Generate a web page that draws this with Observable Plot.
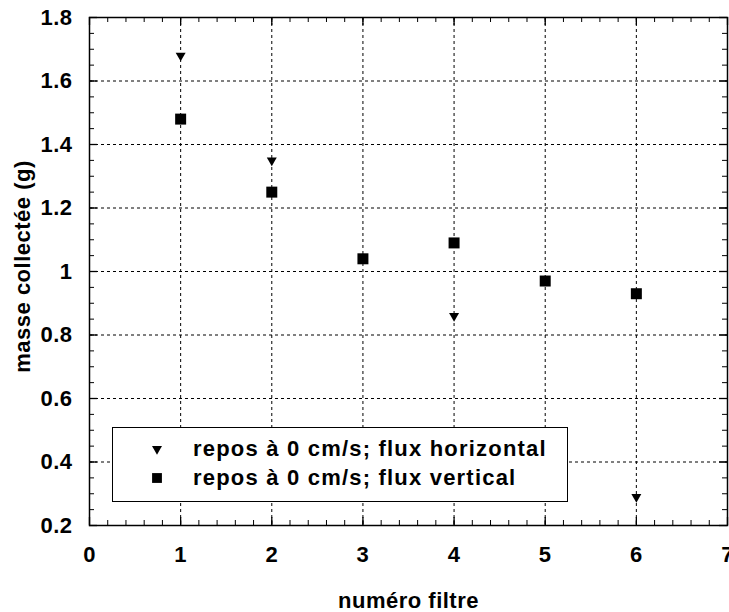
<!DOCTYPE html>
<html>
<head>
<meta charset="utf-8">
<script src="https://cdn.jsdelivr.net/npm/d3@7"></script>
<script src="https://cdn.jsdelivr.net/npm/@observablehq/plot@0.6"></script>
<style>
  body { margin: 0; background: #fff; }
  #wrap { position: relative; width: 729px; height: 612px; font-family: "Liberation Sans", Arial, sans-serif; font-weight: bold; }
  #legend { position: absolute; left: 112px; top: 427px; width: 456px; height: 75px; background: #fff;
            border: 1.5px solid #000; box-sizing: border-box; font-size: 22px; letter-spacing: 1.2px; color: #000; }
  #legend .row { position: absolute; left: 0; height: 24px; line-height: 24px; white-space: nowrap; }
  #legend svg { position: absolute; left: 34px; top: 2px; }
  #legend span { position: absolute; left: 80px; }
</style>
</head>
<body>
<div id="wrap"></div>
<script>
// Data
const filtreHorizontal = [1, 2, 4, 6];
const masseHorizontal = [1.68, 1.35, 0.86, 0.29];
const filtreVertical = [1, 2, 3, 4, 5, 6];
const masseVertical = [1.48, 1.25, 1.04, 1.09, 0.97, 0.93];
const seriesLabels = ["repos à 0 cm/s; flux horizontal", "repos à 0 cm/s; flux vertical"];
const xTitle = "numéro filtre";
const yTitle = "masse collectée (g)";
const xTicks = [0, 1, 2, 3, 4, 5, 6, 7];
const yTicks = [0.2, 0.4, 0.6, 0.8, 1.0, 1.2, 1.4, 1.6, 1.8];
const xMinor = d3.range(0, 36).map(i => i / 5);
const yMinor = d3.range(4, 37).map(i => i / 20);

const horizontal = filtreHorizontal.map((f, i) => ({filtre: f, masse: masseHorizontal[i]}));
const vertical = filtreVertical.map((f, i) => ({filtre: f, masse: masseVertical[i]}));

const W = 729, H = 612, mL = 89, mR = 2, mT = 17, mB = 87;
const ph = H - mT - mB, pw = W - mL - mR;
const major = 8, minor = 5;
const FS = 22;

const chart = Plot.plot({
  width: W, height: H,
  marginLeft: mL, marginRight: mR, marginTop: mT, marginBottom: mB,
  style: {fontFamily: "'Liberation Sans', Arial, sans-serif", fontWeight: "bold", fontSize: FS + "px",
          letterSpacing: "0.5px", color: "#000", background: "#fff", overflow: "visible"},
  x: {domain: [0, 7]},
  y: {domain: [0.2, 1.8]},
  marks: [
    Plot.ruleX(xTicks.slice(1, -1), {x: d => d, stroke: "#000", strokeWidth: 1, strokeDasharray: "3,3"}),
    Plot.ruleY(yTicks.slice(1, -1), {y: d => d, stroke: "#000", strokeWidth: 1, strokeDasharray: "3,3"}),
    // inward ticks
    Plot.tickX(xMinor, {x: d => d, insetTop: ph - minor, stroke: "#000"}),
    Plot.tickX(xMinor, {x: d => d, insetBottom: ph - minor, stroke: "#000"}),
    Plot.tickX(xTicks, {x: d => d, insetTop: ph - major, stroke: "#000", strokeWidth: 1.3}),
    Plot.tickX(xTicks, {x: d => d, insetBottom: ph - major, stroke: "#000", strokeWidth: 1.3}),
    Plot.tickY(yMinor, {y: d => d, insetRight: pw - minor, stroke: "#000"}),
    Plot.tickY(yMinor, {y: d => d, insetLeft: pw - minor, stroke: "#000"}),
    Plot.tickY(yTicks, {y: d => d, insetRight: pw - major, stroke: "#000", strokeWidth: 1.3}),
    Plot.tickY(yTicks, {y: d => d, insetLeft: pw - major, stroke: "#000", strokeWidth: 1.3}),
    Plot.frame({stroke: "#000", strokeWidth: 1.5}),
    Plot.axisX(xTicks, {tickSize: 0, tickPadding: 21, fontSize: FS, label: null}),
    Plot.axisY(yTicks, {tickSize: 0, tickPadding: 17, fontSize: FS, tickFormat: d => String(+d.toFixed(1)), label: null}),
    Plot.text([xTitle], {text: d => d, frameAnchor: "bottom", textAnchor: "middle", lineAnchor: "middle", dy: 75, fontSize: FS, fontWeight: "bold", fill: "#000"}),
    Plot.text([yTitle], {text: d => d, frameAnchor: "left", textAnchor: "middle", lineAnchor: "middle", dx: -67, dy: -5, rotate: -90, fontSize: FS, fontWeight: "bold", fill: "#000"}),
    Plot.dot(horizontal, {x: "filtre", y: "masse", symbol: "triangle", rotate: 180, r: 3.7, fill: "#000", stroke: null}),
    Plot.dot(vertical, {x: "filtre", y: "masse", symbol: "square", r: 6.2, fill: "#000", stroke: null})
  ]
});
const wrap = document.getElementById("wrap");
wrap.appendChild(chart);

// legend
const legend = document.createElement("div");
legend.id = "legend";
const symbols = [d3.symbolTriangle, d3.symbolSquare];
const sizes = [3.7 * 3.7 * Math.PI, 0.8 * 6.2 * 6.2 * Math.PI];
seriesLabels.forEach((lab, i) => {
  const row = document.createElement("div");
  row.className = "row";
  row.style.top = (9 + i * 29) + "px";
  row.style.width = "100%";
  const svg = d3.create("svg").attr("width", 20).attr("height", 20);
  svg.append("path").attr("d", d3.symbol(symbols[i], sizes[i])())
    .attr("transform", i === 0 ? "translate(10,10) rotate(180)" : "translate(10,10)").attr("fill", "#000");
  row.appendChild(svg.node());
  const sp = document.createElement("span");
  sp.textContent = lab;
  row.appendChild(sp);
  legend.appendChild(row);
});
wrap.appendChild(legend);
</script>
</body>
</html>
